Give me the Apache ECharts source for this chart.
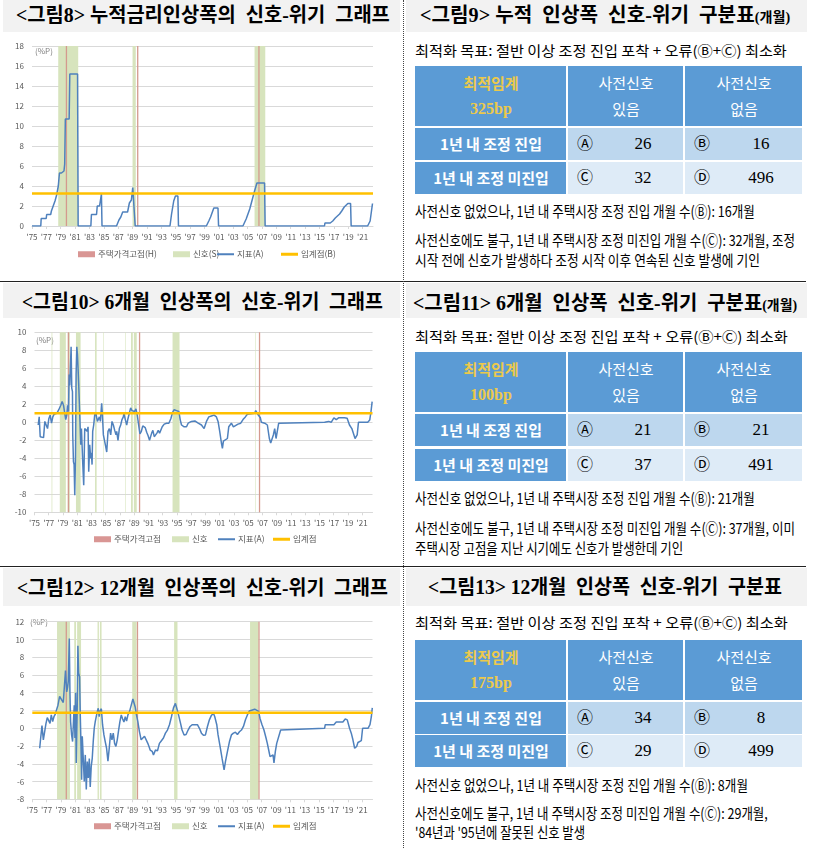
<!DOCTYPE html>
<html>
<head>
<meta charset="utf-8">
<script src="https://cdn.jsdelivr.net/npm/echarts@6/dist/echarts.min.js"></script>
<style>
  body { margin: 0; width: 824px; height: 848px; position: relative; background: #fff; overflow: hidden;
         font-family: "Noto Sans CJK KR", sans-serif; }
  .bar { position: absolute; background: #f2f2f2; }
  .t { position: absolute; white-space: nowrap; transform-origin: 0 50%; }
  .chart { position: absolute; left: 0; width: 403px; }
  .cell { position: absolute; box-sizing: border-box; }
</style>
</head>
<body>
<div class="bar" style="left:3px;top:0;width:397px;height:32px"></div>
<div class="bar" style="left:406px;top:0;width:401px;height:32px"></div>
<div class="bar" style="left:3px;top:283px;width:397px;height:35px"></div>
<div class="bar" style="left:406px;top:283px;width:401px;height:35px"></div>
<div class="bar" style="left:3px;top:568px;width:397px;height:38px"></div>
<div class="bar" style="left:406px;top:568px;width:401px;height:38px"></div>

<div id="c1" class="chart" style="top:33px;height:248px"></div>
<div id="c2" class="chart" style="top:318px;height:248px"></div>
<div id="c3" class="chart" style="top:606px;height:242px"></div>

<div style="position:absolute;left:0;top:281px;width:806px;height:1px;background:#222"></div>
<div style="position:absolute;left:0;top:566px;width:806px;height:1px;background:#222"></div>
<div style="position:absolute;left:403px;top:0;width:0;height:848px;border-left:1px dotted #444"></div>

<script>
// ---- 데이터 (연도, %P) ----
var xMax = 47.45; // 1975.01 ~ 2022.05

// 누적 인상폭
var cumRise = [
  [1975.0,0],[1976.22,0],[1976.28,0.75],[1976.98,0.75],[1977.04,1.15],[1977.6,1.15],[1977.7,1.5],[1977.85,1.8],
  [1977.96,2.0],[1978.2,2.5],[1978.43,3.1],[1978.66,4.0],[1978.82,5.3],[1979.1,5.3],[1979.18,5.5],[1979.45,5.5],
  [1979.55,6.2],[1979.64,10.7],[1980.17,10.7],[1980.26,15.2],[1981.34,15.2],[1981.42,0],
  [1983.19,0],[1983.27,1.15],[1983.98,1.15],[1984.08,2.0],[1984.4,2.0],[1984.66,3.2],[1984.74,0],
  [1986.76,0],[1987.1,0.6],[1987.36,0.9],[1987.62,1.4],[1988.3,1.4],[1988.55,2.3],[1988.83,2.6],[1989.02,3.85],
  [1989.28,3.85],[1989.36,0],
  [1994.2,0],[1994.42,1.2],[1994.72,2.5],[1994.96,3.0],[1995.3,3.0],[1995.38,0],
  [1999.26,0],[1999.6,0.5],[1999.85,0.9],[2000.05,1.3],[2000.3,1.8],[2000.88,1.8],[2000.96,0],
  [2004.35,0],[2004.8,0.7],[2005.3,1.7],[2005.97,3.5],[2006.3,4.3],[2007.36,4.3],[2007.44,0],
  [2015.7,0],[2015.76,0.3],[2016.5,0.3],[2016.85,0.5],[2017.2,0.8],[2017.5,1.0],[2017.8,1.2],[2018.1,1.5],
  [2018.45,1.9],[2018.95,2.25],[2019.33,2.25],[2019.41,0],
  [2021.7,0],[2022.05,0.5],[2022.38,2.25]
];
var cumSignal = [[1978.65,1981.43],[1988.99,1989.44],[2005.97,2007.46]];
var cumPeak = [[1979.7,1979.88],[1989.62,1989.8],[2006.49,2006.67]];
var cumThreshold = 3.25;

// 6개월 인상폭
var rise6m = [
  [1975.52,-0.3],[1975.66,0.6],[1975.8,-1.6],[1976.08,-1.8],[1976.27,-1.7],[1976.45,0.1],[1976.64,0.3],[1976.83,-0.7],
  [1977.01,0.4],[1977.2,0.8],[1977.39,-0.1],[1977.57,0.6],[1977.76,0.9],[1977.95,0.7],[1978.13,1.0],[1978.41,1.4],
  [1978.69,1.9],[1978.88,2.3],[1979.07,1.9],[1979.25,1.0],[1979.39,0.3],[1979.53,0.8],[1979.63,1.9],[1979.77,1.2],
  [1979.86,5.3],[1979.95,4.1],[1980.05,6.4],[1980.14,8.4],[1980.23,3.8],[1980.33,3.4],[1980.37,-1.4],[1980.47,-4.4],
  [1980.56,-4.7],[1980.65,-8.1],[1980.75,-4.0],[1980.84,5.3],[1980.94,8.4],[1981.03,7.5],[1981.12,5.9],[1981.21,4.1],
  [1981.31,1.9],[1981.4,-0.3],[1981.49,-2.5],[1981.59,-0.7],[1981.77,-4.5],[1981.91,-7.0],[1982.05,-0.7],[1982.24,-0.5],
  [1982.38,-1.0],[1982.52,-0.5],[1982.61,-5.5],[1982.75,-2.5],[1982.89,-4.0],[1982.99,-3.4],[1983.08,-4.7],[1983.17,-1.0],
  [1983.31,-0.3],[1983.45,0.8],[1983.59,1.1],[1983.73,1.0],[1983.83,0.1],[1983.97,-0.1],[1984.11,0.6],[1984.25,0.1],
  [1984.43,2.1],[1984.53,0.9],[1984.67,-1.4],[1984.95,-2.5],[1985.14,-3.3],[1985.32,-1.0],[1985.51,-0.7],[1985.7,-1.4],
  [1985.88,0.1],[1986.07,-0.3],[1986.26,-0.9],[1986.44,-1.4],[1986.54,-1.0],[1986.72,-2.0],[1986.91,-0.7],[1987.1,-0.3],
  [1987.28,0.3],[1987.47,0.6],[1987.56,1.0],[1987.75,0.3],[1987.94,-0.3],[1988.12,0.4],[1988.31,1.0],[1988.5,1.6],
  [1988.69,1.3],[1988.87,1.5],[1989.06,1.2],[1989.24,1.5],[1989.43,0.8],[1989.62,-0.3],[1989.8,-1.3],[1990.0,-1.0],
  [1990.2,-0.4],[1990.4,-0.2],[1990.55,-0.6],[1990.75,-1.1],[1990.95,-1.5],[1991.15,-2.0],[1991.3,-2.0],[1991.45,-1.2],
  [1991.62,-0.9],[1991.81,-1.6],[1992.0,-1.8],[1992.18,-1.2],[1992.37,-0.9],[1992.56,-1.2],[1992.74,-1.0],[1992.93,-0.5],
  [1993.21,-0.2],[1993.54,-0.1],[1993.86,-0.1],[1994.14,0.4],[1994.38,1.1],[1994.61,1.4],[1994.94,1.3],[1995.27,1.2],
  [1995.45,0.3],[1995.64,-0.3],[1996.01,-0.5],[1996.34,-0.5],[1996.57,-0.1],[1997.04,0.1],[1997.51,0.15],[1997.98,-0.1],
  [1998.44,-0.3],[1998.81,-0.7],[1999.14,0.1],[1999.47,0.6],[1999.84,0.7],[2000.21,0.8],[2000.54,0.6],[2000.77,0.1],
  [2001.0,-1.0],[2001.24,-2.3],[2001.38,-2.9],[2001.52,-2.1],[2001.8,-2.0],[2002.08,-1.8],[2002.27,-0.5],[2002.64,-0.1],
  [2002.92,-0.5],[2003.2,-0.3],[2003.57,-0.2],[2003.95,-0.1],[2004.27,0.3],[2004.6,0.6],[2004.88,0.9],[2005.1,1.0],
  [2005.9,1.0],[2006.06,1.3],[2006.34,0.9],[2006.71,0.5],[2006.85,0.0],[2007.32,-0.1],[2007.69,-0.3],[2007.97,-1.8],
  [2008.16,-2.3],[2008.35,-2.5],[2008.53,-1.4],[2008.72,-0.7],[2008.91,-1.8],[2009.1,-1.8],[2009.28,-0.1],[2009.47,0.0],
  [2015.73,0.0],[2015.96,0.2],[2016.29,0.1],[2016.65,0.0],[2017.03,0.5],[2017.36,0.3],[2017.68,0.5],[2018.52,0.5],
  [2018.89,0.45],[2019.22,-0.3],[2019.55,-0.7],[2019.83,-0.85],[2020.0,-1.8],[2020.3,-1.4],[2020.48,0.0],[2021.78,0.0],
  [2022.06,0.25],[2022.24,1.2],[2022.4,2.3]
];
var sig6m = [[1977.4,1977.5],[1978.55,1979.4],[1979.65,1979.95],[1980.82,1981.47],[1983.5,1983.72],[1984.64,1984.72],
  [1987.72,1987.8],[1988.55,1988.8],[1988.95,1989.35],[1994.38,1995.36],[2005.97,2006.05]];
var peak6m = [[1979.68,1979.86],[1989.66,1989.84],[2006.5,2006.68]];
var threshold6m = 1.0;

// 12개월 인상폭
var rise12m = [
  [1976.03,-2.25],[1976.17,-1.1],[1976.35,0.3],[1976.54,-1.3],[1976.72,-1.4],[1976.91,0.55],[1977.09,1.2],[1977.28,1.1],
  [1977.47,0.55],[1977.65,1.5],[1977.84,0.75],[1978.02,1.3],[1978.21,1.6],[1978.39,2.1],[1978.58,2.6],[1978.81,3.6],
  [1979.04,3.4],[1979.32,2.9],[1979.51,2.7],[1979.63,6.5],[1979.8,4.1],[1979.92,4.6],[1980.02,5.3],[1980.16,10.1],
  [1980.25,4.1],[1980.34,0.75],[1980.48,-0.75],[1980.62,-1.5],[1980.76,1.1],[1980.85,2.6],[1980.95,-1.1],[1981.04,4.0],
  [1981.13,-3.9],[1981.27,2.6],[1981.36,9.3],[1981.46,6.2],[1981.6,5.8],[1981.69,1.5],[1981.78,-1.5],[1981.88,-5.8],
  [1981.97,-0.9],[1982.11,-1.1],[1982.25,-6.0],[1982.39,-3.0],[1982.53,-6.9],[1982.67,-3.75],[1982.81,-5.6],[1982.95,-3.4],
  [1983.08,-6.6],[1983.22,-4.3],[1983.36,-3.4],[1983.5,-1.5],[1983.64,0.0],[1983.78,0.75],[1983.92,1.3],[1984.07,1.9],
  [1984.2,2.25],[1984.33,1.3],[1984.43,1.9],[1984.63,2.2],[1984.8,0.4],[1984.99,-0.75],[1985.17,-1.5],[1985.36,-2.25],
  [1985.55,-3.7],[1985.73,-2.25],[1985.92,-0.55],[1986.11,-1.3],[1986.29,-0.55],[1986.48,-1.7],[1986.66,-2.05],[1986.85,-1.3],
  [1987.04,-0.2],[1987.22,0.75],[1987.41,1.5],[1987.6,1.05],[1987.78,0.7],[1987.97,1.3],[1988.15,0.8],[1988.34,1.5],
  [1988.57,1.9],[1988.8,2.6],[1989.03,3.3],[1989.16,3.1],[1989.35,2.4],[1989.53,1.5],[1989.72,0.75],[1989.95,-0.4],
  [1990.18,-1.3],[1990.41,-1.5],[1990.65,-0.9],[1990.88,-0.8],[1991.11,-1.7],[1991.3,-2.1],[1991.44,-2.45],[1991.72,-2.6],
  [1991.9,-3.0],[1992.18,-2.45],[1992.46,-2.55],[1992.73,-1.7],[1993.01,-1.4],[1993.29,-1.1],[1993.57,-0.55],[1993.85,-0.2],
  [1994.13,0.4],[1994.41,1.3],[1994.69,2.3],[1994.96,2.8],[1995.15,2.7],[1995.34,1.7],[1995.62,0.75],[1995.89,-0.2],
  [1996.17,-0.75],[1996.45,-0.7],[1996.73,-0.2],[1997.01,0.2],[1997.29,0.4],[1998.03,0.4],[1998.31,0.0],[1998.59,-0.55],
  [1998.87,-0.8],[1999.15,-0.75],[1999.43,0.2],[1999.7,0.95],[1999.98,1.45],[2000.26,1.7],[2000.45,1.3],[2000.73,0.4],
  [2000.91,-0.75],[2001.19,-2.05],[2001.47,-3.4],[2001.75,-4.7],[2001.94,-3.75],[2002.22,-2.6],[2002.5,-1.5],[2002.77,-0.75],
  [2003.05,-0.55],[2003.33,-0.45],[2003.61,-0.7],[2003.89,-0.4],[2004.17,-0.2],[2004.45,0.2],[2004.73,0.95],[2005.0,1.5],
  [2005.28,1.95],[2005.55,2.15],[2006.02,2.15],[2006.29,2.05],[2006.57,1.9],[2006.76,1.1],[2007.04,0.4],[2007.31,-0.2],
  [2007.6,-1.1],[2007.78,-1.7],[2007.97,-2.45],[2008.16,-3.2],[2008.34,-3.3],[2008.58,-3.0],[2008.71,-3.9],[2008.9,-2.6],
  [2009.09,-1.7],[2009.36,-1.7],[2009.64,-0.2],[2009.83,0.0],[2015.77,0.0],[2015.86,0.4],[2017.07,0.4],[2017.39,0.7],
  [2018.32,0.7],[2018.65,1.05],[2018.93,0.95],[2019.25,0.0],[2019.49,-0.55],[2019.72,-1.3],[2019.96,-2.25],[2020.24,-2.05],
  [2020.42,-1.6],[2020.89,-1.4],[2021.07,0.0],[2021.82,0.0],[2022.1,0.4],[2022.29,1.3],[2022.42,2.3]
];
var sig12m = [[1978.45,1980.25],[1980.85,1981.1],[1981.25,1981.8],[1984.1,1984.29],[1984.43,1984.66],
  [1988.94,1989.54],[1994.78,1995.25],[2005.37,2006.57]];
var peak12m = [[1979.65,1979.83],[1989.58,1989.76],[2006.53,2006.71]];
var threshold12m = 1.75;

// 구분표
var optThreshold = ['325bp', '100bp', '175bp'];
var countA = [26, 21, 34];
var countB = [16, 21, 8];
var countC = [32, 37, 29];
var countD = [496, 491, 499];

// ---- 그래프 ----
function yearLabel(v) {
  var y = (75 + v) % 100;
  return "'" + (y < 10 ? '0' : '') + y;
}
function toX(arr) { return arr.map(function (p) { return [+(p[0] - 1975).toFixed(3), p[1]]; }); }
function toArea(arr) { return arr.map(function (s) { return [{ xAxis: s[0] - 1975 }, { xAxis: s[1] - 1975 }]; }); }

function drawChart(id, o) {
  var chart = echarts.init(document.getElementById(id));
  var lab = { fontSize: 8, color: '#595959', fontFamily: 'Noto Sans CJK KR' };
  var iconH = [6, 6, 2, 3];
  // 범례 항목마다 위치를 따로 잡는다
  var legends = o.names.map(function (nm, k) {
    return {
      left: o.legendX[k], top: o.legendTop, padding: 0, itemWidth: 17, itemHeight: iconH[k], icon: 'rect',
      selectedMode: false, data: [nm],
      textStyle: { fontSize: 8.5, color: '#595959', padding: [0, 0, 0, -2] }
    };
  });
  chart.setOption({
    animation: false,
    textStyle: { fontFamily: 'Noto Sans CJK KR' },
    grid: { left: o.left, right: o.right, top: o.top, bottom: o.bottom },
    graphic: [{ type: 'text', left: o.unitX, top: o.unitY,
      style: { text: '(%P)', fill: '#7f7f7f', fontSize: 8, fontFamily: 'Noto Sans CJK KR' } }],
    legend: legends,
    xAxis: {
      type: 'value', min: 0, max: xMax, interval: 2,
      splitLine: { show: false },
      axisLine: { onZero: false, lineStyle: { color: '#d9d9d9' } },
      axisTick: { length: 3, lineStyle: { color: '#d9d9d9' } },
      axisLabel: Object.assign({ formatter: yearLabel, margin: 7, showMaxLabel: false }, lab)
    },
    yAxis: {
      type: 'value', min: o.ymin, max: o.ymax, interval: 2,
      splitLine: { lineStyle: { color: '#d9d9d9' } },
      axisLine: { show: false }, axisTick: { show: false },
      axisLabel: Object.assign({ margin: 8 }, lab)
    },
    series: [
      { name: o.names[1], type: 'line', data: [], itemStyle: { color: '#d7e4bd' }, lineStyle: { color: '#d7e4bd' },
        markArea: { silent: true, label: { show: false }, itemStyle: { color: '#d7e4bd', borderWidth: 0 },
          data: toArea(o.signal) } },
      { name: o.names[0], type: 'line', data: [], itemStyle: { color: '#d99694' }, lineStyle: { color: '#d99694' },
        markArea: { silent: true, label: { show: false }, itemStyle: { color: '#d49a8e', borderWidth: 0 },
          data: toArea(o.peak) } },
      { name: o.names[2], type: 'line', symbol: 'none', data: toX(o.values),
        itemStyle: { color: '#4f81bd' }, lineStyle: { color: '#4f81bd', width: 1.5 } },
      { name: o.names[3], type: 'line', symbol: 'none', data: [[0, o.threshold], [xMax, o.threshold]],
        itemStyle: { color: '#ffc000' }, lineStyle: { color: '#ffc000', width: 2.5 } }
    ]
  });
}

drawChart('c1', { left: 32, right: 30, top: 13, bottom: 55, ymin: 0, ymax: 18,
  values: cumRise, signal: cumSignal, peak: cumPeak, threshold: cumThreshold,
  names: ['주택가격고점(H)', '신호(S)', '지표(A)', '임계점(B)'],
  unitX: 35, unitY: 14, legendX: [78, 173, 217, 281], legendTop: 217 });
drawChart('c2', { left: 34.5, right: 30.5, top: 14.3, bottom: 53.7, ymin: -10, ymax: 10,
  values: rise6m, signal: sig6m, peak: peak6m, threshold: threshold6m,
  names: ['주택가격고점', '신호', '지표(A)', '임계점'],
  unitX: 36, unitY: 18, legendX: [94, 172, 218, 273], legendTop: 217 });
drawChart('c3', { left: 32.3, right: 30.5, top: 15.7, bottom: 48.7, ymin: -8, ymax: 12,
  values: rise12m, signal: sig12m, peak: peak12m, threshold: threshold12m,
  names: ['주택가격고점', '신호', '지표(A)', '임계점'],
  unitX: 30, unitY: 12, legendX: [94, 172, 218, 273], legendTop: 216 });

// ---- 글자 ----
function put(html, x0, x1, yc, font, color) {
  var d = document.createElement('div');
  d.className = 't';
  d.innerHTML = html;
  d.style.font = font;
  d.style.lineHeight = '24px';
  d.style.left = x0 + 'px';
  d.style.top = (yc - 12) + 'px';
  d.style.color = color || '#000';
  document.body.appendChild(d);
  var w = d.getBoundingClientRect().width;
  d.style.transform = 'scaleX(' + ((x1 - x0) / w).toFixed(3) + ')';
  return d;
}
var titleFont = 'bold 20px "Liberation Serif", "Noto Sans CJK KR"';
var small = '<span style="font-size:14px">(개월)</span>';
put('&lt;그림8&gt; 누적금리인상폭의&nbsp; 신호-위기&nbsp; 그래프', 16, 390, 15, titleFont);
put('&lt;그림10&gt; 6개월&nbsp; 인상폭의&nbsp; 신호-위기&nbsp; 그래프', 22, 383, 302, titleFont);
put('&lt;그림12&gt; 12개월&nbsp; 인상폭의&nbsp; 신호-위기&nbsp; 그래프', 17, 388, 588, titleFont);
put('&lt;그림9&gt; 누적&nbsp; 인상폭&nbsp; 신호-위기&nbsp; 구분표' + small, 420, 790, 15, titleFont);
put('&lt;그림11&gt; 6개월&nbsp; 인상폭&nbsp; 신호-위기&nbsp; 구분표' + small, 413, 797, 303, titleFont);
put('&lt;그림13&gt; 12개월&nbsp; 인상폭&nbsp; 신호-위기&nbsp; 구분표', 428, 782, 587, titleFont);

var subFont = '14px "Noto Sans CJK KR"';
var noteFont = '15px "Noto Sans CJK KR"';
var subText = '최적화 목표: 절반 이상 조정 진입 포착 + 오류(Ⓑ+Ⓒ) 최소화';

function note1(n) { return '사전신호 없었으나, 1년 내 주택시장 조정 진입 개월 수(Ⓑ): ' + n + '개월'; }
function note2(n, tail) { return '사전신호에도 불구, 1년 내 주택시장 조정 미진입 개월 수(Ⓒ): ' + n + '개월,' + tail; }

function table(i, top, rowTops) {
  var cols = [[415, 151], [568, 115], [685, 117]];
  var heights = [60, 32, 32];
  var blue = '#5b9bd5', light1 = '#bdd7ee', light2 = '#deebf7';
  var fills = [[blue, blue, blue], [blue, light1, light1], [blue, light2, light2]];
  var rows = [top, rowTops[0], rowTops[1]];
  for (var r = 0; r < 3; r++) {
    for (var c = 0; c < 3; c++) {
      var d = document.createElement('div');
      d.className = 'cell';
      d.style.left = cols[c][0] + 'px'; d.style.top = rows[r] + 'px';
      d.style.width = cols[c][1] + 'px'; d.style.height = heights[r] + 'px';
      d.style.background = fills[r][c];
      document.body.appendChild(d);
    }
  }
  function center(html, c, yc, font, color) {
    var d = document.createElement('div');
    d.className = 't';
    d.innerHTML = html;
    d.style.font = font; d.style.lineHeight = '22px'; d.style.color = color;
    d.style.top = (yc - 11) + 'px';
    document.body.appendChild(d);
    var w = d.getBoundingClientRect().width;
    d.style.left = (c - w / 2) + 'px';
  }
  var hc = top + 30;
  center('최적임계', 491, hc - 13, 'bold 15px "Noto Sans CJK KR"', '#ecc94b');
  center(optThreshold[i], 491, hc + 13, 'bold 16px "Liberation Serif"', '#ecc94b');
  center('사전신호', 626, hc - 13, '15px "Noto Sans CJK KR"', '#fff');
  center('있음', 626, hc + 13, '15px "Noto Sans CJK KR"', '#fff');
  center('사전신호', 744, hc - 13, '15px "Noto Sans CJK KR"', '#fff');
  center('없음', 744, hc + 13, '15px "Noto Sans CJK KR"', '#fff');
  var labels = ['1년 내 조정 진입', '1년 내 조정 미진입'];
  var cells = [[['Ⓐ', countA[i]], ['Ⓑ', countB[i]]], [['Ⓒ', countC[i]], ['Ⓓ', countD[i]]]];
  for (var k = 0; k < 2; k++) {
    var yc = rowTops[k] + 16;
    center(labels[k], 491, yc, 'bold 15px "Noto Sans CJK KR"', '#fff');
    center(cells[k][0][0], 585, yc, '16px "Liberation Serif", "Noto Sans CJK KR"', '#000');
    center(String(cells[k][0][1]), 643, yc, '17px "Liberation Serif"', '#000');
    center(cells[k][1][0], 702, yc, '16px "Liberation Serif", "Noto Sans CJK KR"', '#000');
    center(String(cells[k][1][1]), 761, yc, '17px "Liberation Serif"', '#000');
  }
}

put(subText, 415, 787, 50, subFont);
table(0, 66, [128, 162]);
put(note1(countB[0]), 415, 755, 211, noteFont);
put(note2(countC[0], ' 조정'), 415, 795, 240, noteFont);
put('시작 전에 신호가 발생하다 조정 시작 이후 연속된 신호 발생에 기인', 415, 760, 260, noteFont);

put(subText, 415, 788, 336, subFont);
table(1, 352, [414, 449]);
put(note1(countB[1]), 415, 755, 498, noteFont);
put(note2(countC[1], ' 이미'), 415, 795, 528, noteFont);
put('주택시장 고점을 지난 시기에도 신호가 발생한데 기인', 415, 683, 548, noteFont);

put(subText, 415, 788, 622, subFont);
table(2, 640, [702, 735]);
put(note1(countB[2]), 415, 748, 785, noteFont);
put(note2(countC[2], ''), 415, 768, 813, noteFont);
put('\'84년과 \'95년에 잘못된 신호 발생', 415, 585, 832, noteFont);
</script>
</body>
</html>
